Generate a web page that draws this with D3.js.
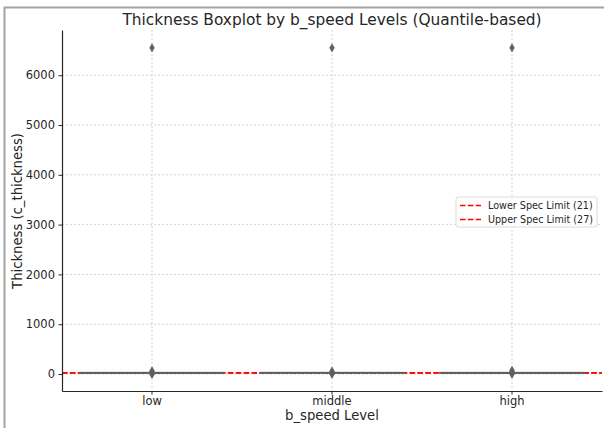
<!DOCTYPE html>
<meta charset="utf-8">
<style>
  body { margin: 0; background: #fff; }
  text { font-family: "DejaVu Sans", sans-serif; fill: #262626; }
</style>
<script src="https://cdn.jsdelivr.net/npm/d3@7"></script>
<body>
<div id="chart"></div>
</body>
<script>
// data
var levels = ["low", "middle", "high"];
var q1 = [22.4, 22.6, 22.5];
var medians = [24.0, 24.1, 24.0];
var q3 = [25.6, 25.7, 25.6];
var whiskerLow = [17.8, 18.0, 17.9];
var whiskerHigh = [30.2, 30.3, 30.2];
var outliers = [
  [0, 4, 10, 42, 63, 6550],
  [1, 6, 38, 56, 6550],
  [0, 7, 48, 72, 6550]
];
var yTicks = [0, 1000, 2000, 3000, 4000, 5000, 6000];
var specLimits = [
  {label: "Lower Spec Limit (21)", value: 21},
  {label: "Upper Spec Limit (27)", value: 27}
];

var W = 604, H = 428;
var svg = d3.select("#chart").append("svg")
  .attr("width", W)
  .attr("height", H);

// outer grey frame of the screenshot
svg.append("path")
  .attr("d", "M4.5,428 L4.5,7.5 L604,7.5")
  .attr("fill", "none")
  .attr("stroke", "#a3a3a3")
  .attr("stroke-width", 2);

// plot area
var plotL = 62, plotR = 602, plotT = 30, plotB = 391;

var x = d3.scaleBand()
  .domain(levels)
  .range([plotL, plotR]);

var y = d3.scaleLinear()
  .domain([-341, 6908])
  .range([plotB, plotT]);

function cx(d) { return x(d) + x.bandwidth() / 2; }

// grid
svg.append("g").selectAll("line")
  .data(yTicks)
  .enter().append("line")
    .attr("x1", plotL).attr("x2", plotR)
    .attr("y1", function(d) { return y(d); })
    .attr("y2", function(d) { return y(d); })
    .attr("stroke", "#c8c8c8")
    .attr("stroke-width", 0.8)
    .attr("stroke-dasharray", "2,2");

svg.append("g").selectAll("line")
  .data(levels)
  .enter().append("line")
    .attr("x1", cx)
    .attr("x2", cx)
    .attr("y1", plotT).attr("y2", plotB)
    .attr("stroke", "#c8c8c8")
    .attr("stroke-width", 0.8)
    .attr("stroke-dasharray", "2,2");

// spec limit lines (behind the boxes)
svg.append("g").selectAll("line")
  .data(specLimits)
  .enter().append("line")
    .attr("x1", plotL).attr("x2", plotR)
    .attr("y1", function(d) { return y(d.value); })
    .attr("y2", function(d) { return y(d.value); })
    .attr("stroke", "red")
    .attr("stroke-width", 1.5)
    .attr("stroke-dasharray", "5.5,2.4");

// boxes
var bw = x.bandwidth() * 0.8;
var box = svg.append("g").selectAll("g")
  .data(levels)
  .enter().append("g");

box.append("line")
  .attr("x1", cx)
  .attr("x2", cx)
  .attr("y1", function(d, i) { return y(whiskerLow[i]); })
  .attr("y2", function(d, i) { return y(whiskerHigh[i]); })
  .attr("stroke", "#4d4d4d")
  .attr("stroke-width", 1.5);

box.append("rect")
  .attr("x", function(d) { return x(d) + (x.bandwidth() - bw) / 2; })
  .attr("width", bw)
  .attr("y", function(d, i) { return y(q3[i]); })
  .attr("height", function(d, i) { return y(q1[i]) - y(q3[i]); })
  .attr("fill", "#808080")
  .attr("stroke", "#6a6a6a")
  .attr("stroke-width", 1.8);

box.append("line")
  .attr("x1", function(d) { return x(d) + (x.bandwidth() - bw) / 2; })
  .attr("x2", function(d) { return x(d) + (x.bandwidth() + bw) / 2; })
  .attr("y1", function(d, i) { return y(medians[i]); })
  .attr("y2", function(d, i) { return y(medians[i]); })
  .attr("stroke", "#5a5a5a")
  .attr("stroke-width", 1.2);

// fliers as thin diamonds
var diamond = "M0,-4.2 L2.4,0 L0,4.2 L-2.4,0 Z";
box.each(function(d, i) {
  d3.select(this).selectAll("path")
    .data(outliers[i])
    .enter().append("path")
      .attr("d", diamond)
      .attr("transform", function(v) {
        return "translate(" + cx(d) + "," + y(v) + ")";
      })
      .attr("fill", "#5f5f5f")
      .attr("stroke", "#5f5f5f")
      .attr("stroke-width", 0.5);
});

// axes
var yAxis = svg.append("g")
  .attr("transform", "translate(" + plotL + ",0)")
  .call(d3.axisLeft(y).tickValues(yTicks).tickFormat(d3.format("d"))
    .tickSize(3.5).tickSizeOuter(0).tickPadding(3.5));
var xAxis = svg.append("g")
  .attr("transform", "translate(0," + plotB + ")")
  .call(d3.axisBottom(x).tickSize(3.5).tickSizeOuter(0).tickPadding(2));

[xAxis, yAxis].forEach(function(a) {
  a.select(".domain").attr("stroke", "#262626").attr("stroke-width", 1.2);
  a.selectAll(".tick line").attr("stroke", "#262626");
  a.selectAll(".tick text")
    .style("font-family", "DejaVu Sans")
    .style("font-size", "11.5px")
    .attr("fill", "#262626");
});

// title and labels
svg.append("text")
  .attr("x", 332).attr("y", 25)
  .attr("text-anchor", "middle")
  .style("font-size", "15.4px")
  .text("Thickness Boxplot by b_speed Levels (Quantile-based)");

svg.append("text")
  .attr("x", 332).attr("y", 420)
  .attr("text-anchor", "middle")
  .style("font-size", "13.2px")
  .text("b_speed Level");

svg.append("text")
  .attr("transform", "translate(22,211) rotate(-90)")
  .attr("text-anchor", "middle")
  .style("font-size", "13.2px")
  .text("Thickness (c_thickness)");

// legend
var lg = svg.append("g").attr("transform", "translate(456,197)");
lg.append("rect")
  .attr("width", 141).attr("height", 30)
  .attr("rx", 2.5)
  .attr("fill", "#fff")
  .attr("fill-opacity", 0.8)
  .attr("stroke", "#d0d0d0")
  .attr("stroke-width", 0.8);
var item = lg.selectAll("g.item")
  .data(specLimits)
  .enter().append("g")
    .attr("class", "item")
    .attr("transform", function(d, i) { return "translate(0," + (8.5 + i * 14) + ")"; });
item.append("line")
  .attr("x1", 4).attr("x2", 25)
  .attr("stroke", "red")
  .attr("stroke-width", 1.5)
  .attr("stroke-dasharray", "5.5,2.4");
item.append("text")
  .attr("x", 32).attr("y", 3.5)
  .style("font-size", "9.6px")
  .text(function(d) { return d.label; });
</script>
</html>
